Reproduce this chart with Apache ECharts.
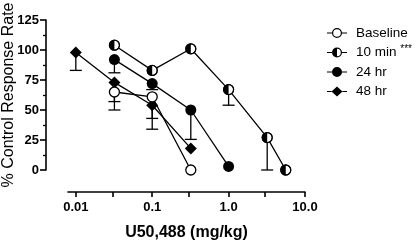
<!DOCTYPE html>
<html>
<head>
<meta charset="utf-8">
<script src="https://cdn.jsdelivr.net/npm/echarts@6/dist/echarts.min.js"></script>
<style>
  html, body { margin: 0; padding: 0; background: #fff; }
  #chart { width: 416px; height: 242px; }
</style>
</head>
<body>
<div id="chart"></div>
<script>
// dose (mg/kg), % control response rate, lower end of the error bar
const baselineDose = [0.032, 0.1, 0.32];
const baselineRate = [65, 61, 0];
const baselineLow = [50, 43, null];

const min10Dose = [0.032, 0.1, 0.32, 1.0, 3.2, 5.6];
const min10Rate = [104, 83, 101, 67, 27, 0];
const min10Low = [null, null, null, 54, 0, null];

const hr24Dose = [0.032, 0.1, 0.32, 1.0];
const hr24Rate = [92, 72, 50, 3];
const hr24Low = [81, 67, 25.5, null];

const hr48Dose = [0.01, 0.032, 0.1, 0.32];
const hr48Rate = [98, 73, 54, 18];
const hr48Low = [83, 57, 34, null];

const xTicks = [0.01, 0.03, 0.1, 0.3, 1, 3, 10];
const xLabels = [0.01, 0.1, 1, 10];
const xLabelText = { 0.01: '0.01', 0.1: '0.1', 1: '1.0', 10: '10.0' };

const FONT = 'Liberation Sans, Arial, Helvetica, sans-serif';
const LW = 1.3;

// marker / legend shapes
const halfSymbol = 'path://M10,0 A10,10 0 0,0 10,20 Z M10,0 A10,10 0 0,1 10,20 L10,18.4 A8.4,8.4 0 0,0 10,1.6 Z';
const legLines = 'M0,4.4 H5.2 V5.6 H0 Z M14.8,4.4 H20 V5.6 H14.8 Z ';
const legendIcons = {
  'Baseline': 'path://' + legLines + 'M5,5 A5,5 0 1,1 15,5 A5,5 0 1,1 5,5 Z M6.2,5 A3.8,3.8 0 1,0 13.8,5 A3.8,3.8 0 1,0 6.2,5 Z',
  '10 min': 'path://' + legLines + 'M10,0 A5,5 0 0,0 10,10 Z M10,0 A5,5 0 0,1 10,10 L10,8.8 A3.8,3.8 0 0,0 10,1.2 Z',
  '24 hr': 'path://' + legLines + 'M5,5 A5,5 0 1,1 15,5 A5,5 0 1,1 5,5 Z',
  '48 hr': 'path://' + 'M0,4.4 H4.5 V5.6 H0 Z M15.5,4.4 H20 V5.6 H15.5 Z M10,0 L15.5,5 L10,10 L4.5,5 Z'
};

const zip = (xs, ys) => xs.map((x, i) => [x, ys[i]]);
const errData = (xs, ys, lows) => xs.map((x, i) => [x, ys[i], lows[i]]).filter(d => d[2] != null);

function lineSeries(name, xs, ys) {
  return {
    name, type: 'line', data: zip(xs, ys), symbol: 'none', z: 2,
    lineStyle: { color: '#000', width: LW }, itemStyle: { color: '#000' }
  };
}

function errSeries(name, xs, ys, lows) {
  return {
    name, type: 'custom', z: 3, data: errData(xs, ys, lows),
    encode: { x: 0, y: [1, 2] },
    renderItem(params, api) {
      const top = api.coord([api.value(0), api.value(1)]);
      const bot = api.coord([api.value(0), api.value(2)]);
      const st = { stroke: '#000', lineWidth: LW };
      return {
        type: 'group',
        children: [
          { type: 'line', shape: { x1: top[0], y1: top[1], x2: bot[0], y2: bot[1] }, style: st },
          { type: 'line', shape: { x1: bot[0] - 6, y1: bot[1], x2: bot[0] + 6, y2: bot[1] }, style: st }
        ]
      };
    }
  };
}

function markSeries(name, xs, ys, symbol, size, itemStyle, z) {
  return {
    name, type: 'scatter', data: zip(xs, ys), symbol, symbolSize: size,
    z: z || 4, itemStyle, emphasis: { disabled: true }
  };
}

const openStyle = { color: '#fff', borderColor: '#000', borderWidth: LW, opacity: 1 };
const fillStyle = { color: '#000', opacity: 1 };

const chart = echarts.init(document.getElementById('chart'), null, { renderer: 'canvas' });

chart.setOption({
  animation: false,
  backgroundColor: '#fff',
  textStyle: { fontFamily: FONT, color: '#000' },
  grid: { left: 68, right: 111, top: 20, bottom: 72, containLabel: false, outerBoundsMode: 'none' },
  legend: {
    orient: 'vertical',
    left: 322,
    top: 20,
    itemWidth: 20,
    itemHeight: 10,
    itemGap: 3.5,
    selectedMode: false,
    itemStyle: { color: '#000', borderWidth: 0 },
    textStyle: {
      fontFamily: FONT, fontSize: 13.5, color: '#000', lineHeight: 16,
      padding: [0, 0, 0, 4],
      rich: { sup: { fontFamily: FONT, fontSize: 10, color: '#000', lineHeight: 16, verticalAlign: 'top', padding: [0, 0, 5, 0] } }
    },
    formatter: name => name === '10 min' ? '10 min {sup|***}' : name,
    data: Object.keys(legendIcons).map(name => ({
      name, icon: legendIcons[name], itemStyle: { color: '#000', borderWidth: 0 }
    }))
  },
  xAxis: {
    type: 'log',
    logBase: 10,
    min: 0.0079,
    max: 10,
    offset: 22,
    name: 'U50,488 (mg/kg)',
    nameLocation: 'middle',
    nameGap: 33,
    nameMoveOverlap: false,
    nameTextStyle: { fontFamily: FONT, fontSize: 16, fontWeight: 'bold', color: '#000' },
    axisLine: { show: true, onZero: false, lineStyle: { color: '#000', width: 1.6 } },
    axisTick: { show: true, length: 5, customValues: xTicks, lineStyle: { color: '#000', width: 1.6 } },
    minorTick: { show: false },
    axisLabel: {
      customValues: xLabels,
      margin: 9,
      fontFamily: FONT, fontSize: 13, fontWeight: 'bold', color: '#000',
      formatter: v => xLabelText[v] || ''
    },
    splitLine: { show: false }
  },
  yAxis: {
    type: 'value',
    min: 0,
    max: 125,
    interval: 25,
    offset: 22,
    name: '% Control Response Rate',
    nameLocation: 'middle',
    nameRotate: 90,
    nameGap: 29,
    nameMoveOverlap: false,
    nameTextStyle: { fontFamily: FONT, fontSize: 16, color: '#000' },
    axisLine: { show: true, onZero: false, lineStyle: { color: '#000', width: 1.6 } },
    axisTick: { show: true, length: 6, lineStyle: { color: '#000', width: 1.6 } },
    minorTick: { show: true, splitNumber: 2, length: 3, lineStyle: { color: '#000', width: 1.3 } },
    axisLabel: { margin: 7, fontFamily: FONT, fontSize: 13, fontWeight: 'bold', color: '#000' },
    splitLine: { show: false }
  },
  series: [
    lineSeries('Baseline', baselineDose, baselineRate),
    lineSeries('10 min', min10Dose, min10Rate),
    lineSeries('24 hr', hr24Dose, hr24Rate),
    lineSeries('48 hr', hr48Dose, hr48Rate),
    errSeries('Baseline', baselineDose, baselineRate, baselineLow),
    errSeries('10 min', min10Dose, min10Rate, min10Low),
    errSeries('24 hr', hr24Dose, hr24Rate, hr24Low),
    errSeries('48 hr', hr48Dose, hr48Rate, hr48Low),
    markSeries('48 hr', hr48Dose, hr48Rate, 'diamond', 12, fillStyle),
    markSeries('24 hr', hr24Dose, hr24Rate, 'circle', 11, fillStyle),
    markSeries('Baseline', baselineDose, baselineRate, 'circle', 10, openStyle, 5),
    markSeries('10 min', min10Dose, min10Rate, 'circle', 10, openStyle, 5),
    markSeries('10 min', min10Dose, min10Rate, halfSymbol, 11, fillStyle, 6)
  ]
});
</script>
</body>
</html>
